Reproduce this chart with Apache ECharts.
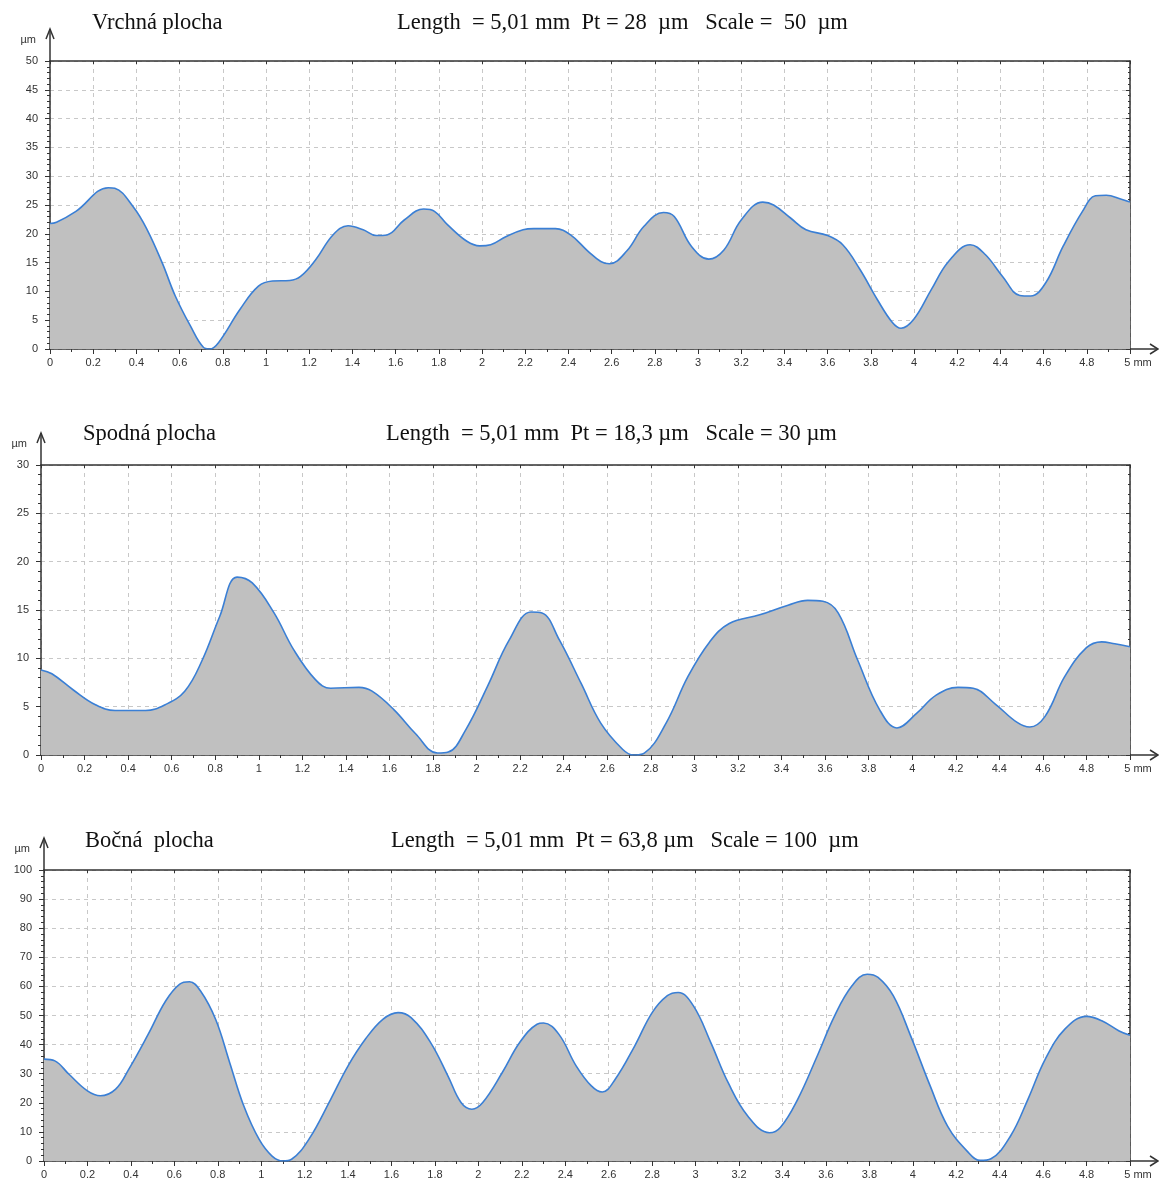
<!DOCTYPE html>
<html><head><meta charset="utf-8">
<script src="https://cdn.jsdelivr.net/npm/echarts@6/dist/echarts.min.js"></script>
<style>html,body{margin:0;padding:0;background:#fff}#c{width:1159px;height:1184px}</style>
</head><body><div id="c"></div>
<script>
// ---- Data ----
const titles = ["Vrchná plocha", "Spodná plocha", "Bočná  plocha"];
const infos = [
  "Length  = 5,01 mm  Pt = 28  µm   Scale =  50  µm",
  "Length  = 5,01 mm  Pt = 18,3 µm   Scale = 30 µm",
  "Length  = 5,01 mm  Pt = 63,8 µm   Scale = 100  µm"
];
const yMaxes = [50, 30, 100];
const ySteps = [5, 5, 10];
const xStep = 0.2;

const x1 = [0,0.03,0.12,0.27,0.30,0.385,0.45,0.52,0.58,0.65,0.71,0.74,0.78,0.88,0.965,1.03,1.11,1.16,1.23,1.31,1.38,1.45,1.51,1.56,1.64,1.73,1.78,1.84,1.93,1.99,2.04,2.11,2.19,2.24,2.34,2.41,2.49,2.55,2.59,2.67,2.75,2.84,2.89,2.97,3.05,3.12,3.20,3.30,3.35,3.43,3.50,3.60,3.67,3.75,3.83,3.90,3.94,4.00,4.08,4.16,4.26,4.33,4.41,4.49,4.54,4.61,4.69,4.78,4.84,4.89,4.96,5.0];
const y1 = [21.8,22,23.9,28.0,27.9,24.7,20.7,14.9,9.2,4.0,0.3,0,1.1,6.9,10.9,11.8,11.9,12.6,15.5,19.8,21.4,20.7,19.7,19.8,22.4,24.3,23.9,21.6,18.7,17.9,18.1,19.5,20.7,20.9,20.9,19.8,17.0,15.2,14.8,17.0,21.3,23.7,23.0,17.8,15.6,17.2,22.4,25.5,25.0,22.7,20.7,19.7,18.1,13.8,8.6,4.6,3.6,5.2,10.3,15.2,18.1,16.4,12.6,9.3,9.2,11.5,17.8,23.9,26.6,26.7,26.0,25.5];

const x2 = [0,0.05,0.15,0.25,0.34,0.48,0.57,0.66,0.74,0.82,0.90,0.97,1.07,1.16,1.26,1.33,1.46,1.52,1.62,1.72,1.82,1.87,1.95,2.05,2.15,2.25,2.30,2.38,2.48,2.57,2.67,2.72,2.77,2.87,2.97,3.07,3.16,3.30,3.43,3.52,3.59,3.66,3.75,3.85,3.93,4.02,4.11,4.21,4.28,4.38,4.48,4.54,4.61,4.70,4.80,4.87,4.93,5.0];
const y2 = [8.8,8.4,6.7,5.2,4.6,4.6,5.2,6.6,9.8,14.3,18.4,17.8,14.7,10.9,7.8,6.9,7.0,6.6,4.7,2.2,0.2,0.3,2.6,7.1,11.9,14.8,14.7,11.9,7.4,3.3,0.6,0,0.2,3.3,8.1,11.7,13.6,14.5,15.5,16.0,15.9,14.7,9.8,4.7,2.8,4.3,6.2,7.0,6.9,5.3,3.4,2.9,4.0,8.1,11.1,11.7,11.5,11.2];

const x3 = [0,0.05,0.115,0.2,0.26,0.33,0.39,0.48,0.56,0.625,0.67,0.72,0.79,0.855,0.92,0.99,1.05,1.10,1.14,1.22,1.32,1.40,1.48,1.56,1.63,1.69,1.78,1.86,1.92,1.97,2.02,2.11,2.19,2.27,2.30,2.37,2.45,2.52,2.57,2.63,2.72,2.80,2.87,2.92,2.99,3.07,3.15,3.24,3.34,3.39,3.47,3.56,3.64,3.72,3.79,3.84,3.91,3.99,4.08,4.16,4.25,4.31,4.36,4.45,4.53,4.61,4.70,4.80,4.87,4.95,5.0];
const y3 = [35.0,34.4,29.8,24.1,22.4,24.7,31.5,43.6,55.0,60.8,61.6,58.5,48.7,33.8,18.9,7.5,1.7,0,0.6,7.5,21.2,32.7,41.9,48.7,51.0,49.3,40.7,29.2,20.1,17.8,20.1,30.4,40.7,47.0,47.4,43.6,32.7,25.8,23.7,28.1,39.6,51.0,56.8,57.9,53.3,40.7,26.9,15.5,9.7,11.5,21.2,36.1,49.9,60.2,64.2,63.1,56.8,43.0,25.8,12.0,3.4,0.2,0.8,8.6,21.2,35.0,45.3,49.7,48.2,44.7,43.2];

const xsAll = [x1, x2, x3];
const ysAll = [y1, y2, y3];

// ---- Layout ----
const grids = [
  {left: 50, top: 61, width: 1080, height: 288},
  {left: 41, top: 465, width: 1089, height: 290},
  {left: 44, top: 870, width: 1086, height: 291}
];
const titleTops = [12, 423, 830];
const titleLefts = [92, 83, 85];
const infoLefts = [397, 386, 391];

const AX = '#333';
const fmtX = v => {
  if (Math.abs(v - 5) < 1e-9) return '{e|5 mm}';
  return String(Number(v.toFixed(1)));
};
const tStyle = {fontFamily: 'Liberation Serif', fontSize: 22.5, fontWeight: 'normal', color: '#111'};

const option = {
  animation: false,
  backgroundColor: '#fff',
  title: [],
  grid: grids.map(g => Object.assign({containLabel: false}, g)),
  xAxis: [], yAxis: [], series: []
};

for (let i = 0; i < 3; i++) {
  option.title.push({text: titles[i], left: titleLefts[i], top: titleTops[i], padding: 0, textStyle: tStyle});
  option.title.push({text: infos[i], left: infoLefts[i], top: titleTops[i], padding: 0, textStyle: tStyle});
  // bottom x
  option.xAxis.push({
    type: 'value', gridIndex: i, min: 0, max: 5, interval: xStep, position: 'bottom',
    axisLine: {show: true, onZero: false, lineStyle: {color: AX, width: 1.5}},
    axisTick: {show: true, length: 5, lineStyle: {color: AX}},
    minorTick: {show: true, splitNumber: 2, length: 3, lineStyle: {color: AX}},
    axisLabel: {color: '#333', fontSize: 11, fontFamily: 'Liberation Sans', margin: 8, formatter: fmtX,
      rich: {e: {fontSize: 11, fontFamily: 'Liberation Sans', color: '#333', padding: [0, 0, 0, 16]}}},
    splitLine: {show: true, lineStyle: {color: '#c8c8c8', type: [4, 4], width: 1}}
  });
  // top x (frame)
  option.xAxis.push({
    type: 'value', gridIndex: i, min: 0, max: 5, interval: 0.2, position: 'top',
    axisLine: {show: true, onZero: false, lineStyle: {color: AX, width: 1.5}},
    axisTick: {show: true, inside: true, length: 3, lineStyle: {color: AX}},
    axisLabel: {show: false}, splitLine: {show: false}
  });
  // left y
  option.yAxis.push({
    type: 'value', gridIndex: i, min: 0, max: yMaxes[i], interval: ySteps[i], position: 'left',
    name: 'µm', nameLocation: 'end', nameGap: 16,
    nameTextStyle: {color: '#333', fontSize: 11, fontFamily: 'Liberation Sans', align: 'right', padding: [0, 14, 0, 0]},
    axisLine: {show: true, onZero: false, lineStyle: {color: AX, width: 1.5}},
    axisTick: {show: true, length: 5, lineStyle: {color: AX}},
    minorTick: {show: true, splitNumber: 5, length: 3, lineStyle: {color: AX}},
    axisLabel: {color: '#333', fontSize: 11, fontFamily: 'Liberation Sans', margin: 12},
    splitLine: {show: true, lineStyle: {color: '#c8c8c8', type: [4, 4], width: 1}}
  });
  // right y (frame)
  option.yAxis.push({
    type: 'value', gridIndex: i, min: 0, max: yMaxes[i], interval: ySteps[i], position: 'right',
    axisLine: {show: true, onZero: false, lineStyle: {color: AX, width: 1.5}},
    axisTick: {show: true, inside: true, length: 4, lineStyle: {color: AX}},
    minorTick: {show: true, splitNumber: 5, length: 2, lineStyle: {color: AX}},
    axisLabel: {show: false}, splitLine: {show: false}
  });
  option.series.push({
    type: 'line', xAxisIndex: i * 2, yAxisIndex: i * 2,
    data: xsAll[i].map((x, k) => [x, ysAll[i][k]]),
    smooth: 0.4, symbol: 'none', z: 3,
    lineStyle: {color: '#3a7fd5', width: 1.6},
    areaStyle: {color: '#c0c0c0', opacity: 1}
  });
}

const chart = echarts.init(document.getElementById('c'), null, {renderer: 'canvas'});
chart.setOption(option);

// axis arrows (decoration), positioned through the axes' own scales
const gfx = [];
for (let i = 0; i < 3; i++) {
  const o = chart.convertToPixel({xAxisIndex: i * 2, yAxisIndex: i * 2}, [0, 0]);
  const e = chart.convertToPixel({xAxisIndex: i * 2, yAxisIndex: i * 2}, [5, yMaxes[i]]);
  const ls = {stroke: AX, lineWidth: 1.5, fill: null};
  gfx.push({type: 'polyline', shape: {points: [[e[0], o[1]], [e[0] + 27, o[1]]]}, style: ls, z: 10});
  gfx.push({type: 'polyline', shape: {points: [[e[0] + 20, o[1] - 5], [e[0] + 28, o[1]], [e[0] + 20, o[1] + 5]]}, style: ls, z: 10});
  gfx.push({type: 'polyline', shape: {points: [[o[0], e[1]], [o[0], e[1] - 32]]}, style: ls, z: 10});
  gfx.push({type: 'polyline', shape: {points: [[o[0] - 4, e[1] - 22], [o[0], e[1] - 32], [o[0] + 4, e[1] - 22]]}, style: ls, z: 10});
}
chart.setOption({graphic: gfx});
</script>
</body></html>
